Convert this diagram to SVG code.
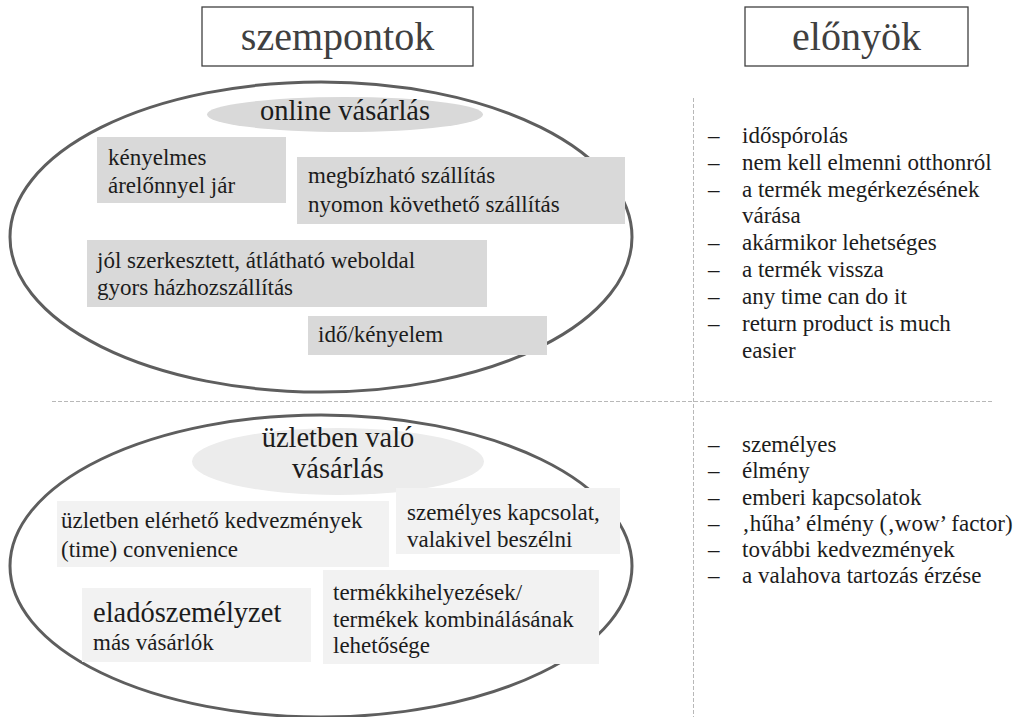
<svg xmlns="http://www.w3.org/2000/svg" width="1018" height="717" viewBox="0 0 1018 717" font-family="'Liberation Serif', Tinos, 'Times New Roman', 'DejaVu Serif', serif">
  <style>
    text { font-family: 'Liberation Serif', Tinos, 'Times New Roman', 'DejaVu Serif', serif; fill: #1c1c1c; }
    .title { font-size: 40px; fill: #404040; text-anchor: middle; }
    .head { font-size: 28.5px; text-anchor: middle; }
    .body { font-size: 23px; }
    .big { font-size: 28.5px; }
    .frame { fill: #ffffff; stroke: #404040; stroke-width: 1.3; }
    .oval { fill: none; stroke: #5e5e5e; stroke-width: 3; }
    .boxA { fill: #d9d9d9; }
    .boxB { fill: #f2f2f2; }
    .sep { stroke: #b8b8b8; stroke-width: 1; stroke-dasharray: 4 2; fill: none; }
  </style>

  <rect width="1018" height="717" fill="#ffffff"/>

  <!-- column headings -->
  <g id="heading-szempontok">
    <rect class="frame" x="202" y="7" width="271" height="59"/>
    <text class="title" x="337.5" y="50">szempontok</text>
  </g>
  <g id="heading-elonyok">
    <rect class="frame" x="745" y="7" width="223" height="59"/>
    <text class="title" x="856.5" y="50">előnyök</text>
  </g>

  <!-- separators -->
  <g id="connectors">
    <line class="sep" x1="52" y1="401.5" x2="993" y2="401.5"/>
    <line class="sep" x1="693.5" y1="98" x2="693.5" y2="717"/>
  </g>

  <!-- online shopping -->
  <g id="online">
    <ellipse class="oval" cx="321" cy="237" rx="311" ry="155"/>
    <ellipse cx="345" cy="114.5" rx="138" ry="17.5" fill="#d9d9d9"/>
    <text class="head" x="345" y="120">online vásárlás</text>
  </g>
  <g id="online-kenyelmes">
    <rect class="boxA" x="97" y="137" width="189" height="66"/>
    <text class="body" x="108" y="165">kényelmes</text>
    <text class="body" x="108" y="193">árelőnnyel jár</text>
  </g>
  <g id="online-szallitas">
    <rect class="boxA" x="297" y="157" width="328" height="67"/>
    <text class="body" x="308" y="183">megbízható szállítás</text>
    <text class="body" x="308" y="212">nyomon követhető szállítás</text>
  </g>
  <g id="online-weboldal">
    <rect class="boxA" x="87" y="240" width="400" height="67"/>
    <text class="body" x="97" y="268">jól szerkesztett, átlátható weboldal</text>
    <text class="body" x="97" y="295">gyors házhozszállítás</text>
  </g>
  <g id="online-ido">
    <rect class="boxA" x="308" y="316" width="239" height="39"/>
    <text class="body" x="318" y="342">idő/kényelem</text>
  </g>

  <!-- in-store shopping -->
  <g id="uzlet">
    <ellipse class="oval" cx="321" cy="566" rx="311" ry="151"/>
    <ellipse cx="338" cy="461.5" rx="146" ry="33.5" fill="#ececec"/>
    <text class="head" x="338" y="447">üzletben való</text>
    <text class="head" x="338" y="478">vásárlás</text>
  </g>
  <g id="uzlet-kedvezmenyek">
    <rect class="boxB" x="57" y="501" width="332" height="66"/>
    <text class="body" x="61" y="528">üzletben elérhető kedvezmények</text>
    <text class="body" x="61" y="557">(time) convenience</text>
  </g>
  <g id="uzlet-kapcsolat">
    <rect class="boxB" x="396" y="488" width="224" height="66"/>
    <text class="body" x="407" y="520">személyes kapcsolat,</text>
    <text class="body" x="407" y="547">valakivel beszélni</text>
  </g>
  <g id="uzlet-szemelyzet">
    <rect class="boxB" x="82" y="588" width="229" height="74"/>
    <text class="big" x="93" y="622">eladószemélyzet</text>
    <text class="body" x="93" y="650">más vásárlók</text>
  </g>
  <g id="uzlet-termekek">
    <rect class="boxB" x="323" y="570" width="276" height="94"/>
    <text class="body" x="333" y="600">termékkihelyezések/</text>
    <text class="body" x="333" y="627">termékek kombinálásának</text>
    <text class="body" x="333" y="653">lehetősége</text>
  </g>

  <!-- advantages: online -->
  <g id="elonyok-online" class="body">
    <text x="708" y="143">–</text><text x="742" y="143">időspórolás</text>
    <text x="708" y="170">–</text><text x="742" y="170">nem kell elmenni otthonról</text>
    <text x="708" y="197">–</text><text x="742" y="197">a termék megérkezésének</text>
    <text x="742" y="223">várása</text>
    <text x="708" y="250">–</text><text x="742" y="250">akármikor lehetséges</text>
    <text x="708" y="277">–</text><text x="742" y="277">a termék vissza</text>
    <text x="708" y="304">–</text><text x="742" y="304">any time can do it</text>
    <text x="708" y="331">–</text><text x="742" y="331">return product is much</text>
    <text x="742" y="358">easier</text>
  </g>

  <!-- advantages: in store -->
  <g id="elonyok-uzlet" class="body">
    <text x="708" y="452">–</text><text x="742" y="452">személyes</text>
    <text x="708" y="478">–</text><text x="742" y="478">élmény</text>
    <text x="708" y="505">–</text><text x="742" y="505">emberi kapcsolatok</text>
    <text x="708" y="531">–</text><text x="742" y="531">‚hűha’ élmény (‚wow’ factor)</text>
    <text x="708" y="557">–</text><text x="742" y="557">további kedvezmények</text>
    <text x="708" y="583">–</text><text x="742" y="583">a valahova tartozás érzése</text>
  </g>
</svg>
